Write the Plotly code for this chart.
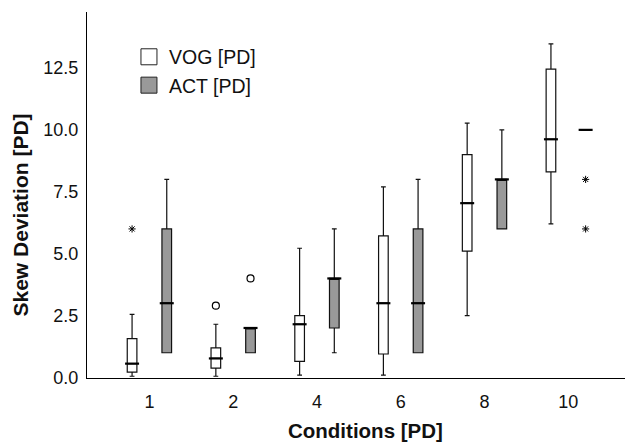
import plotly.graph_objects as go

categories = ["1", "2", "4", "6", "8", "10"]

vog_lower = [0.05, 0.05, 0.1, 0.1, 2.5, 6.2]
vog_q1 = [0.22, 0.38, 0.65, 0.95, 5.1, 8.3]
vog_median = [0.56, 0.77, 2.15, 3.0, 7.04, 9.62]
vog_q3 = [1.57, 1.2, 2.5, 5.72, 9.0, 12.45]
vog_upper = [2.55, 2.15, 5.22, 7.7, 10.27, 13.47]

act_lower = [1.0, 1.0, 1.0, 1.0, 6.0, 10.0]
act_q1 = [1.0, 1.0, 2.0, 1.0, 6.0, 10.0]
act_median = [3.0, 2.0, 4.0, 3.0, 8.0, 10.0]
act_q3 = [6.0, 2.0, 4.0, 6.0, 8.0, 10.0]
act_upper = [8.0, 2.0, 6.0, 8.0, 10.0, 10.0]

# outliers: extreme (*) and mild (o)
vog_extreme_cat = ["1"]
vog_extreme_val = [6.0]
vog_mild_cat = ["2"]
vog_mild_val = [2.9]
act_extreme_cat = ["10", "10"]
act_extreme_val = [8.0, 6.0]
act_mild_cat = ["2"]
act_mild_val = [4.0]

FONT = "Liberation Sans, Arial, sans-serif"
OFF = 0.207
BW = 0.115
idx = {c: i for i, c in enumerate(categories)}

fig = go.Figure()


def add_group(lower, q1, med, q3, upper, fill, sign, ext_cat, ext_val, mild_cat, mild_val):
    xs = [i + sign * OFF for i in range(len(categories))]
    fig.add_trace(go.Box(
        x=xs, q1=q1, median=med, q3=q3, lowerfence=lower, upperfence=upper,
        width=BW, whiskerwidth=0.5, boxpoints=False,
        fillcolor=fill, line=dict(color="#111111", width=1.2),
        showlegend=False, hoverinfo="skip",
    ))
    fig.add_trace(go.Scatter(
        x=xs, y=med, mode="markers", showlegend=False, hoverinfo="skip",
        marker=dict(symbol="line-ew", size=10, color="black",
                    line=dict(color="black", width=2.2)),
    ))
    fig.add_trace(go.Scatter(
        x=[idx[c] + sign * OFF for c in ext_cat], y=ext_val, mode="markers",
        showlegend=False, hoverinfo="skip",
        marker=dict(symbol="asterisk-open", size=6, color="black",
                    line=dict(color="black", width=1)),
    ))
    fig.add_trace(go.Scatter(
        x=[idx[c] + sign * OFF for c in mild_cat], y=mild_val, mode="markers",
        showlegend=False, hoverinfo="skip",
        marker=dict(symbol="circle-open", size=7, color="black",
                    line=dict(color="black", width=1.2)),
    ))


add_group(vog_lower, vog_q1, vog_median, vog_q3, vog_upper, "white", -1,
          vog_extreme_cat, vog_extreme_val, vog_mild_cat, vog_mild_val)
add_group(act_lower, act_q1, act_median, act_q3, act_upper, "#999999", 1,
          act_extreme_cat, act_extreme_val, act_mild_cat, act_mild_val)

# legend entries
fig.add_trace(go.Scatter(x=[None], y=[None], mode="markers", name="VOG [PD]",
                         marker=dict(symbol="square", size=16, color="white",
                                     line=dict(color="#222222", width=1))))
fig.add_trace(go.Scatter(x=[None], y=[None], mode="markers", name="ACT [PD]",
                         marker=dict(symbol="square", size=16, color="#999999",
                                     line=dict(color="#222222", width=1))))

fig.update_layout(
    width=625, height=444,
    margin=dict(l=87, r=0, t=12, b=66),
    paper_bgcolor="white", plot_bgcolor="white",
    font=dict(family=FONT, size=18, color="#111111"),
    showlegend=True,
    legend=dict(x=0.078, y=0.93, xanchor="left", yanchor="top",
                bgcolor="rgba(0,0,0,0)", font=dict(size=19.5),
                itemsizing="trace", tracegroupgap=0),
    xaxis=dict(range=[-0.745, 5.677], tickvals=list(range(len(categories))),
               ticktext=categories, showgrid=False, zeroline=False,
               showline=True, linecolor="black", linewidth=1.3, ticks="",
               ticklabelstandoff=7, tickfont=dict(size=18)),
    yaxis=dict(range=[-0.02, 14.76], tickvals=[0, 2.5, 5, 7.5, 10, 12.5],
               ticktext=["0.0", "2.5", "5.0", "7.5", "10.0", "12.5"],
               showgrid=False, zeroline=False, showline=True, linecolor="black",
               linewidth=1.3, ticks="", ticklabelstandoff=4, tickfont=dict(size=18)),
    annotations=[
        dict(text="<b>Conditions [PD]</b>", xref="paper", yref="paper",
             x=(365 - 87) / 538, y=-(430 - 378) / 366, xanchor="center", yanchor="middle",
             showarrow=False, font=dict(size=20.5)),
        dict(text="<b>Skew Deviation [PD]</b>", xref="paper", yref="paper",
             x=-(87 - 20) / 538, y=(378 - 215.5) / 366, xanchor="center", yanchor="middle",
             textangle=-90, showarrow=False, font=dict(size=21)),
    ],
)

fig.write_html("out.html", config={"displayModeBar": False},
               post_script="document.body.style.margin='0';")
